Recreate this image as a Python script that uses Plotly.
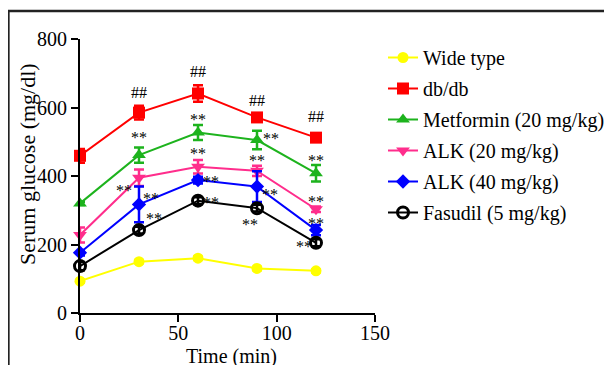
import plotly.graph_objects as go

time_min = [0, 30, 60, 90, 120]

series_names = ["Wide type", "db/db", "Metformin (20 mg/kg)", "ALK (20 mg/kg)", "ALK (40 mg/kg)", "Fasudil (5 mg/kg)"]

wide_type = [93, 150, 160, 130, 123]
wide_type_err = [5, 5, 5, 5, 5]

db_db = [459, 585, 641, 571, 512]
db_db_err = [20, 20, 24, 10, 10]

metformin_20 = [320, 461, 527, 505, 408]
metformin_20_err = [5, 22, 22, 27, 24]

alk_20 = [228, 395, 427, 415, 303]
alk_20_err = [22, 24, 20, 15, 8]

alk_40 = [176, 317, 388, 369, 242]
alk_40_err = [8, 52, 10, 45, 15]

fasudil_5 = [137, 242, 328, 306, 205]
fasudil_5_err = [12, 10, 10, 10, 10]

# significance labels: (series index, time, text, xshift px, yshift px)
sig_labels = [
    (1, 30, "##", 0, 24), (1, 60, "##", 0, 26), (1, 90, "##", 0, 21), (1, 120, "##", 0, 25),
    (2, 30, "**", 0, 22), (2, 60, "**", 0, 17), (2, 90, "**", 14, 6), (2, 120, "**", 0, 17),
    (3, 30, "**", -15, -9), (3, 60, "**", 0, 17), (3, 90, "**", 0, 14), (3, 120, "**", 0, 12),
    (4, 30, "**", 12, 10), (4, 60, "**", 13, 3), (4, 90, "**", 13, -4), (4, 120, "**", 0, 11),
    (5, 30, "**", 15, 16), (5, 60, "**", 13, 2), (5, 90, "**", -7, -12), (5, 120, "**", -12, 0),
]

values = [wide_type, db_db, metformin_20, alk_20, alk_40, fasudil_5]
errors = [wide_type_err, db_db_err, metformin_20_err, alk_20_err, alk_40_err, fasudil_5_err]
colors = ["#FFFF00", "#FF0000", "#1DB31D", "#FF2D8C", "#0000FF", "#000000"]
symbols = ["circle", "square", "triangle-up", "triangle-down", "diamond", "circle-open"]
sizes = [11, 12, 12, 12, 11, 11]

SERIF = "Liberation Serif"
W, H = 612, 365
OFF = 8  # page body margin offset


def px(x):
    return (x - OFF) / W


def py(y):
    return 1 - (y - OFF) / H


fig = go.Figure()
for i in range(len(series_names)):
    fig.add_trace(go.Scatter(
        x=time_min, y=values[i], name=series_names[i],
        mode="lines+markers",
        line=dict(color=colors[i], width=2),
        marker=dict(symbol=symbols[i], size=sizes[i], color=colors[i],
                    line=dict(color=colors[i], width=3 if symbols[i] == "circle-open" else 0)),
        error_y=dict(type="data", array=errors[i], color=colors[i], thickness=2.5, width=5),
        cliponaxis=False,
        legendgroup=f"g{i}",
    ))

annotations = []
for (si, t, txt, dx, dy) in sig_labels:
    idx = time_min.index(t)
    annotations.append(dict(
        x=t, y=values[si][idx], xref="x", yref="y", text=txt, showarrow=False,
        xshift=dx, yshift=dy - 4, font=dict(family=SERIF, size=16, color="#000000"),
    ))

# y-axis title as annotation
annotations.append(dict(
    x=px(27), y=py(164), xref="paper", yref="paper", text="Serum glucose (mg/dl)",
    xanchor="center", yanchor="middle",
    textangle=-90, showarrow=False, font=dict(family=SERIF, size=22, color="#000000"),
))
# x-axis title as annotation
annotations.append(dict(
    x=px(231), y=py(356), xref="paper", yref="paper", text="Time (min)",
    xanchor="center", yanchor="middle",
    showarrow=False, font=dict(family=SERIF, size=20, color="#000000"),
))

shapes = [
    dict(type="line", xref="paper", yref="paper", x0=0, x1=1.0, y0=py(11), y1=py(11),
         line=dict(color="#222222", width=2.5)),
    dict(type="line", xref="paper", yref="paper", x0=0.4 / W, x1=0.4 / W, y0=py(11), y1=0,
         line=dict(color="#222222", width=2.5)),
]

fig.update_layout(
    template="none",
    width=W, height=H,
    margin=dict(l=0, r=0, t=0, b=0, pad=0, autoexpand=False),
    paper_bgcolor="white", plot_bgcolor="white",
    font=dict(family=SERIF, size=20, color="#000000"),
    showlegend=True,
    legend=dict(x=px(383), y=py(38), xanchor="left", yanchor="top",
                font=dict(family=SERIF, size=20, color="#000000"),
                traceorder="grouped", tracegroupgap=2, bgcolor="rgba(0,0,0,0)", borderwidth=0),
    annotations=annotations,
    shapes=shapes,
    xaxis=dict(domain=[px(80), px(375)], range=[0, 150], tickvals=[0, 50, 100, 150],
               showgrid=False, zeroline=False, automargin=False,
               showline=True, linecolor="#000000", linewidth=2,
               ticks="outside", ticklen=7, tickwidth=2, tickcolor="#000000",
               ticklabelstandoff=-6,
               tickfont=dict(family=SERIF, size=20)),
    yaxis=dict(domain=[py(313), py(39)], range=[0, 800], tickvals=[0, 200, 400, 600, 800],
               showgrid=False, zeroline=False, automargin=False,
               showline=True, linecolor="#000000", linewidth=2,
               ticks="outside", ticklen=7, tickwidth=2, tickcolor="#000000",
               tickfont=dict(family=SERIF, size=20)),
)

fig.write_html("out.html")
